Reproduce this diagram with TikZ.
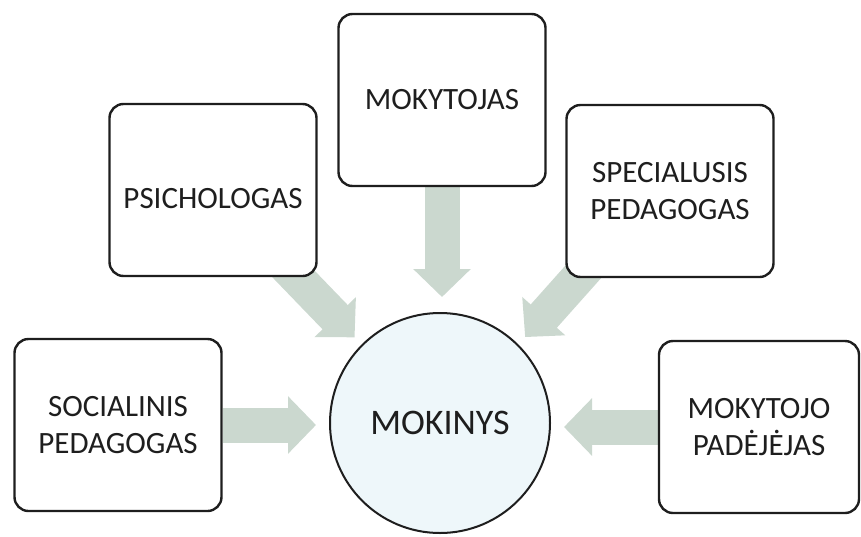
\documentclass[tikz,border=0pt]{standalone}
\usepackage{fontspec}
\setmainfont{Carlito}
\usetikzlibrary{arrows.meta,backgrounds}
\definecolor{arrowgrey}{RGB}{203,216,207}
\definecolor{pupilfill}{RGB}{238,247,250}
\definecolor{inkgrey}{RGB}{30,30,30}

\begin{document}
\begin{tikzpicture}[x=1pt,y=-1pt,
    rolebox/.style={draw=inkgrey,line width=2.4pt,rounded corners=14pt,fill=white,
      minimum width=207pt,minimum height=172pt,inner sep=0pt,align=center,
      text=inkgrey,font=\fontsize{31}{37}\selectfont},
    pupil/.style={circle,draw=inkgrey,line width=2pt,fill=pupilfill,minimum size=220pt,
      inner sep=0pt,text=inkgrey,font=\fontsize{36}{43}\selectfont},
    bigarrow/.style={draw=arrowgrey,line width=35pt,-{Triangle[length=28pt,width=56pt]}}]
    \useasboundingbox (0,0) rectangle (861,536);
    \node[pupil] (M) at (440,423) {MOKINYS};
    \node[rolebox] (S) at (118,425) {SOCIALINIS\\PEDAGOGAS};
    \node[rolebox] (P) at (213,190) {\mbox{}\\PSICHOLOGAS};
    \node[rolebox] (T) at (442,100) {MOKYTOJAS};
    \node[rolebox] (SP) at (670,191) {SPECIALUSIS\\PEDAGOGAS};
    \node[rolebox,minimum width=200pt] (MP) at (759,427) {MOKYTOJO\\PAD\.{E}J\.{E}JAS};
    \coordinate (Pfoot) at (280,260);
    \coordinate (SPfoot) at (592,262);
    \begin{scope}[on background layer]
        \draw[bigarrow,shorten >=13pt] (S.east) -- (S.east -| M.west);
        \draw[bigarrow,shorten >=13pt] (MP.west) -- (MP.west -| M.east);
        \draw[bigarrow,shorten >=15pt] (T.south) -- (T.south |- M.north);
        \draw[bigarrow,shorten >=10pt] (Pfoot) -- (M.north west);
        \draw[bigarrow,shorten >=10pt] (SPfoot) -- (M.north east);
    \end{scope}
\end{tikzpicture}
\end{document}
